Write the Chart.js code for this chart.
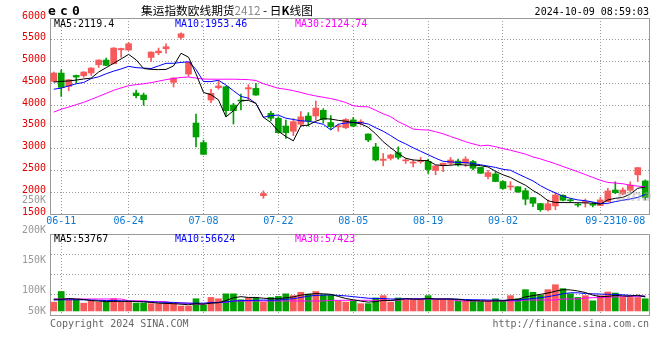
<!DOCTYPE html>
<html><head><meta charset="utf-8">
<script src="https://cdn.jsdelivr.net/npm/chart.js@4.4.1/dist/chart.umd.min.js"></script>
<style>
html,body{margin:0;padding:0;background:#fff;}
#wrap{position:relative;width:660px;height:360px;overflow:hidden;background:#fff;}
canvas{position:absolute;left:0;}
.t{position:absolute;white-space:nowrap;font-family:'DejaVu Sans Mono',monospace;font-size:10px;line-height:12px;z-index:5;}
</style></head><body>
<div id="wrap">
<canvas id="k" width="660" height="230" style="top:0;width:660px;height:230px"></canvas>
<canvas id="v" width="660" height="130" style="top:230px;width:660px;height:130px"></canvas>
</div>
<script>
// ---- data ----
const dates = ['06-07','06-11','06-12','06-13','06-14','06-17','06-18','06-19','06-20','06-21',
 '06-24','06-25','06-26','06-27','06-28','07-01','07-02','07-03','07-04','07-05',
 '07-08','07-09','07-10','07-11','07-12','07-15','07-16','07-17','07-18','07-19',
 '07-22','07-23','07-24','07-25','07-26','07-29','07-30','07-31','08-01','08-02',
 '08-05','08-06','08-07','08-08','08-09','08-12','08-13','08-14','08-15','08-16',
 '08-19','08-20','08-21','08-22','08-23','08-26','08-27','08-28','08-29','08-30',
 '09-02','09-03','09-04','09-05','09-06','09-09','09-10','09-11','09-12','09-13',
 '09-18','09-19','09-20','09-23','09-24','09-25','09-26','09-27','09-30','10-08'];
const dateTicks = ['06-11','06-24','07-08','07-22','08-05','08-19','09-02','09-23','10-08'];
const gridDates = ['06-11','06-24','07-08','07-22','08-05','08-19','09-02','09-23'];

const open = [4545,4736,4430,4682,4675,4736,4927,5034,4950,5271,
 5264,4277,4231,5095,5202,5294,4522,5554,4713,3589,
 3140,4117,4400,4423,4002,4117,4370,4384,1920,3811,
 3696,3520,3400,3560,3749,3750,3880,3600,3500,3480,
 3660,3590,3337,3040,2730,2778,2910,2720,2670,2700,
 2710,2500,2610,2665,2715,2665,2705,2570,2360,2420,
 2245,2120,2125,2035,1876,1740,1595,1685,1930,1825,
 1715,1765,1712,1693,1785,2050,1960,2045,2400,2260];
const high = [4760,4813,4590,4690,4770,4860,5040,5080,5320,5310,
 5440,4346,4277,5225,5310,5409,4630,5661,4990,3795,
 3196,4361,4560,4430,4040,4254,4470,4499,2030,3860,
 3734,3658,3690,3850,3826,4094,3920,3760,3560,3690,
 3720,3665,3340,3122,2890,2870,3040,2778,2740,2800,
 2760,2615,2670,2800,2760,2815,2730,2575,2500,2470,
 2260,2243,2130,2090,1880,1745,1823,1995,1940,1850,
 1745,1846,1760,1884,2090,2240,2100,2240,2570,2282];
const low = [4530,4201,4330,4510,4640,4680,4866,4905,4945,5095,
 5255,4163,3994,5004,5157,5195,4415,5516,4660,3038,
 2867,4055,4365,3734,3566,3890,4120,4220,1862,3640,
 3352,3237,3300,3505,3520,3658,3590,3450,3400,3460,
 3500,3545,3161,2717,2605,2740,2760,2660,2580,2665,
 2430,2400,2470,2630,2600,2590,2510,2430,2305,2240,
 2070,2050,1995,1710,1670,1560,1570,1600,1800,1765,
 1660,1660,1660,1690,1780,1965,1940,2015,2245,1823];
const close = [4736,4407,4583,4644,4759,4851,5034,4912,5310,5300,
 5409,4216,4124,5218,5240,5340,4621,5638,4981,3268,
 2870,4270,4440,3872,3872,4093,4400,4231,1970,3700,
 3367,3367,3620,3730,3635,3930,3670,3505,3525,3670,
 3520,3620,3199,2740,2760,2855,2800,2740,2690,2715,
 2520,2605,2665,2740,2625,2760,2550,2435,2450,2245,
 2085,2135,2005,1840,1747,1600,1735,1937,1815,1805,
 1705,1775,1702,1823,2030,1990,2050,2165,2565,1880];

const ma5 = [4530,4545,4555,4575,4600,4620,4760,4860,4960,5060,
 5165,5040,4840,4820,4815,4820,4900,5190,5100,4720,
 4290,4240,4120,3730,3870,4100,4110,4040,3720,3600,
 3400,3280,3180,3525,3540,3630,3690,3680,3650,3630,
 3600,3570,3490,3340,3160,3020,2890,2780,2740,2730,
 2725,2630,2610,2620,2640,2620,2625,2610,2580,2480,
 2400,2340,2245,2160,2040,1940,1805,1765,1762,1762,
 1760,1755,1748,1725,1823,1860,1880,1960,2090,2119];
const ma10 = [4365,4390,4440,4490,4520,4610,4650,4720,4780,4830,
 4890,4860,4850,4840,4900,4960,4960,4980,4995,4820,
 4540,4540,4570,4460,4330,4200,4160,4040,3720,3760,
 3770,3700,3670,3640,3630,3600,3560,3430,3560,3590,
 3600,3600,3566,3480,3400,3300,3190,3110,3020,2940,
 2860,2780,2710,2695,2685,2680,2660,2630,2600,2570,
 2525,2505,2420,2340,2260,2150,2060,1985,1910,1860,
 1823,1805,1775,1740,1745,1785,1815,1845,1880,1950];
const ma30 = [3840,3905,3955,4010,4065,4130,4200,4270,4340,4395,
 4446,4470,4490,4515,4550,4585,4610,4635,4644,4620,
 4598,4595,4595,4595,4595,4590,4585,4565,4490,4440,
 4385,4365,4330,4290,4245,4210,4180,4150,4110,4060,
 3985,3965,3960,3880,3800,3735,3620,3540,3450,3435,
 3428,3390,3340,3280,3220,3160,3110,3065,3080,3045,
 3000,2965,2920,2875,2810,2765,2710,2655,2590,2530,
 2470,2405,2340,2275,2225,2210,2195,2160,2140,2125];

const volume = [34000,75000,43000,43000,30000,37000,34000,34000,47000,34000,
 34000,30000,30000,28000,28000,28000,28000,19000,19000,47000,
 23000,52000,47000,66000,66000,43000,50000,50000,34000,52000,
 56000,66000,59000,72000,65000,75000,62000,60000,39000,34000,
 39000,28000,28000,50000,59000,34000,50000,43000,43000,43000,
 59000,43000,43000,43000,39000,37000,37000,37000,37000,47000,
 37000,59000,47000,82000,72000,60000,82000,101000,86000,66000,
 52000,59000,39000,59000,73000,69000,52000,52000,52000,47000];
const vma5 = [45000,45000,48000,46000,44000,40000,38000,36000,37000,37000,
 37000,36000,35000,33000,30000,29000,28000,26000,24000,28000,
 26000,30000,32000,40000,51000,55000,52000,52000,49000,47000,
 47000,51000,54000,61000,64000,67000,66000,64000,56000,48000,
 43000,38000,34000,36000,41000,40000,44000,47000,46000,45000,
 48000,46000,46000,46000,45000,41000,40000,39000,38000,39000,
 39000,43000,45000,54000,59000,64000,69000,76000,82000,81000,
 77000,71000,61000,55000,56000,60000,58000,57000,61000,53767];
const vma10 = [42000,43000,43000,43000,43000,42000,41000,40000,40000,39000,
 38000,37000,36000,35000,34000,33000,33000,31000,30000,30000,
 30000,32000,32000,35000,38000,40000,40000,41000,42000,41000,
 42000,45000,47000,52000,57000,60000,61000,62000,60000,58000,
 55000,52000,49000,48000,48000,46000,46000,47000,46000,47000,
 47000,46000,46000,46000,45000,44000,43000,43000,42000,42000,
 41000,42000,42000,45000,48000,51000,55000,60000,66000,70000,
 70000,67000,66000,65000,64000,64000,62000,60000,58000,56624];
const vma30 = [46000,46000,46000,46000,46000,46000,46000,46000,46000,46000,
 39000,39000,39000,36000,36000,36000,30000,30000,30000,26000,
 26000,33000,33000,33000,38500,38500,38500,38500,38500,38500,
 38500,38500,38500,38500,38500,38500,38500,41000,41000,41000,
 41000,41000,41000,41000,41000,41000,41000,46000,46000,46000,
 46000,46000,46000,46000,38500,38500,38500,38500,38500,38500,
 38500,38500,38500,42000,42000,42000,42000,42000,46000,46000,
 46000,50000,51000,52000,53000,54000,55000,56000,57000,57423];
const volTickLabels = ['250K','200K','150K','100K','50K'];
const priceLegend = ['MA5:2119.4','MA10:1953.46','MA30:2124.74'];
const volLegend = ['MA5:53767','MA10:56624','MA30:57423'];

// ---- styles ----
const RED = '#f75a5a', GREEN = '#00a000';
const MONO = "'DejaVu Sans Mono', monospace";
const GRID = '#9a9a9a';
const colors = dates.map((d, i) => close[i] >= open[i] ? RED : GREEN);
const gridCol = ctx => (ctx.index !== undefined && gridDates.includes(dates[ctx.index])) ? GRID : 'rgba(0,0,0,0)';

const frame = {id: 'frame', afterDraw(chart) {
  const {ctx, chartArea: a} = chart;
  ctx.save(); ctx.strokeStyle = '#999'; ctx.lineWidth = 1;
  ctx.beginPath();
  ctx.moveTo(Math.round(a.left), Math.round(a.top) + 0.5);
  ctx.lineTo(Math.round(a.right) + 0.5, Math.round(a.top) + 0.5);
  ctx.lineTo(Math.round(a.right) + 0.5, Math.round(a.bottom));
  ctx.stroke(); ctx.restore();
}};

const line = (data, color) => ({type: 'line', data, borderColor: color, borderWidth: 1,
  pointRadius: 0, tension: 0, fill: false});

new Chart(document.getElementById('k'), {
  type: 'bar',
  data: {labels: dates, datasets: [
    line(ma5, '#000000'), line(ma10, '#0000ff'), line(ma30, '#ff00ff'),
    {type: 'bar', data: dates.map((d, i) => [open[i], close[i]]), backgroundColor: colors,
      barThickness: 6, grouped: false, minBarLength: 1},
    {type: 'bar', data: dates.map((d, i) => [low[i], high[i]]), backgroundColor: colors,
      barThickness: 1, grouped: false}
  ]},
  options: {
    responsive: false, animation: false, devicePixelRatio: 1,
    layout: {padding: {top: 18, right: 11, bottom: 0, left: 0}},
    plugins: {legend: {display: false}, tooltip: {enabled: false}},
    scales: {
      x: {offset: true,
        grid: {offset: false, color: gridCol, drawTicks: false, borderDash: [1, 2]},
        border: {color: '#999', dash: [1, 2]},
        ticks: {autoSkip: false, maxRotation: 0, minRotation: 0, align: 'inner', padding: 1,
          color: '#0a78d2', font: {family: MONO, size: 10},
          callback: (v, i) => dateTicks.includes(dates[i]) ? dates[i] : ''},
        afterFit: s => { s.height = 16; }},
      y: {min: 1500, max: 6000,
        grid: {color: GRID, drawTicks: false, borderDash: [1, 2]},
        border: {color: '#999', dash: [1, 2]},
        ticks: {stepSize: 500, padding: 4, labelOffset: -2, color: '#e00000', font: {family: MONO, size: 10},
          callback: v => String(v)},
        afterFit: s => { s.width = 50; }}
    }
  },
  plugins: [frame]
});

new Chart(document.getElementById('v'), {
  type: 'bar',
  data: {labels: dates, datasets: [
    line(vma5, '#000000'), line(vma10, '#0000ff'), line(vma30, '#ff00ff'),
    {type: 'bar', data: volume, backgroundColor: colors, barThickness: 6, grouped: false}
  ]},
  options: {
    responsive: false, animation: false, devicePixelRatio: 1,
    layout: {padding: {top: 4, right: 11, bottom: 45, left: 0}},
    plugins: {legend: {display: false}, tooltip: {enabled: false}},
    scales: {
      x: {offset: true,
        grid: {offset: false, color: gridCol, drawTicks: false, borderDash: [1, 2]},
        border: {color: '#999', dash: [1, 2]},
        ticks: {display: false},
        afterFit: s => { s.height = 0; }},
      y: {min: -15600, max: 296400,
        grid: {color: GRID, drawTicks: false, borderDash: [1, 2]},
        border: {color: '#999', dash: [1, 2]},
        ticks: {display: false, stepSize: 78000},
        afterFit: s => { s.width = 50; }}
    }
  },
  plugins: [frame]
});

// ---- text overlays ----
const wrap = document.getElementById('wrap');
function addText(txt, css, html) {
  const d = document.createElement('div');
  d.className = 't';
  if (html) d.innerHTML = txt; else d.textContent = txt;
  d.setAttribute('style', css);
  wrap.appendChild(d);
  return d;
}
addText('ec0', 'left:48px;top:3px;font-weight:bold;font-size:13px;line-height:16px;letter-spacing:4.2px;color:#000;');
addText('集运指数欧线期货<span style="color:#888">2412</span> - 日<b>K</b>线图',
  "left:141px;top:2px;font-family:'Noto Sans CJK SC',sans-serif;font-size:11.7px;line-height:15px;color:#000;", true);
addText('2024-10-09 08:59:03', 'right:11px;top:6px;color:#000;');
const legendX = [54, 175, 295], legendC = ['#000', '#0000ff', '#ff00ff'];
priceLegend.forEach((s, i) => addText(s, `left:${legendX[i]}px;top:18px;color:${legendC[i]};`));
volLegend.forEach((s, i) => addText(s, `left:${legendX[i]}px;top:233px;color:${legendC[i]};`));
const volLabelY = [194, 224, 254, 284, 305];
volTickLabels.forEach((s, i) => addText(s, `right:614px;top:${volLabelY[i]}px;color:#999;text-align:right;`));
addText('Copyright 2024 SINA.COM', 'left:50px;top:318px;color:#666;');
addText('http://finance.sina.com.cn', 'right:11px;top:318px;color:#666;');
addText('sina', "left:617px;top:188px;font-family:'DejaVu Sans',sans-serif;font-style:italic;font-weight:bold;font-size:15px;line-height:16px;color:rgba(170,170,170,0.45);");
</script>
</body></html>
